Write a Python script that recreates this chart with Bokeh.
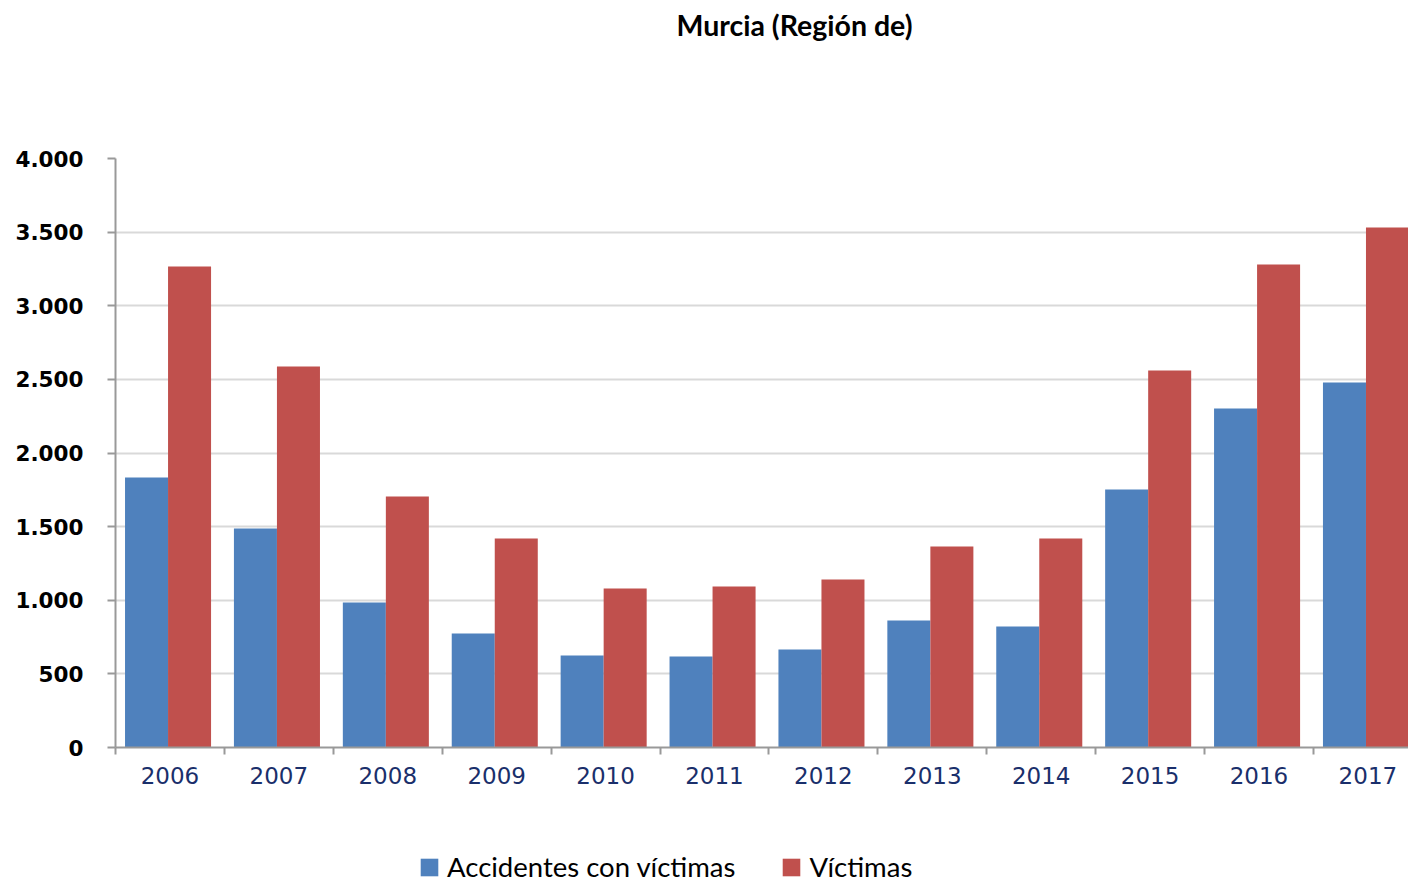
from bokeh.plotting import figure
from bokeh.models import ColumnDataSource, Range1d, FixedTicker, Legend, LegendItem, Title
from bokeh.layouts import column
from bokeh.embed import file_html
from bokeh.resources import INLINE

# ---- data ----
years = ["2006", "2007", "2008", "2009", "2010", "2011", "2012", "2013", "2014", "2015", "2016", "2017"]
accidentes = [1834, 1487, 985, 774, 625, 618, 666, 862, 822, 1752, 2302, 2479]
victimas = [3267, 2587, 1705, 1419, 1080, 1093, 1141, 1365, 1419, 2560, 3280, 3531]
y_ticks = [0, 500, 1000, 1500, 2000, 2500, 3000, 3500, 4000]
y_tick_labels = ["0", "500", "1.000", "1.500", "2.000", "2.500", "3.000", "3.500", "4.000"]
title_text = "Murcia (Región de)"
series_names = ["Accidentes con víctimas", "Víctimas"]

BLUE = "#4F81BD"
RED = "#C0504D"

idx = list(range(len(years)))
src = ColumnDataSource(dict(
    xb=[i - 0.215 for i in idx],
    xr=[i + 0.18 for i in idx],
    acc=accidentes,
    vic=victimas,
))

W = 1408
p = figure(width=W, height=847, output_backend="svg", toolbar_location=None,
           x_range=Range1d(-0.5, 11.373), y_range=Range1d(0, 4000),
           min_border_left=115, min_border_right=0, min_border_top=0,
           min_border_bottom=100)
p.outline_line_color = None
p.background_fill_color = "white"
p.border_fill_color = "white"

rb = p.vbar(x="xb", top="acc", width=0.395, source=src, fill_color=BLUE, line_color=None)
rr = p.vbar(x="xr", top="vic", width=0.395, source=src, fill_color=RED, line_color=None)

# title (outermost) and a blank spacer between it and the frame
p.title = Title(text=title_text, align="left", offset=561, text_font="Lato",
                text_font_size="28.5px", text_font_style="bold", text_color="black")
p.add_layout(Title(text="\u00a0", text_font="Lato", text_font_size="83px"), "above")

# grid
p.xgrid.grid_line_color = None
p.ygrid.grid_line_color = "#d9d9d9"
p.ygrid.grid_line_width = 2
p.ygrid.ticker = FixedTicker(ticks=y_ticks)

# y axis
yax = p.yaxis[0]
yax.ticker = FixedTicker(ticks=y_ticks)
yax.major_label_overrides = {v: s for v, s in zip(y_ticks, y_tick_labels)}
yax.major_label_text_font = "DejaVu Sans"
yax.major_label_text_font_style = "bold"
yax.major_label_text_font_size = "21.5px"
yax.major_label_text_color = "black"
yax.axis_line_color = "#999999"
yax.axis_line_width = 2
yax.major_tick_line_color = "#999999"
yax.major_tick_line_width = 2
yax.major_tick_out = 8
yax.major_tick_in = 0
yax.minor_tick_line_color = None
yax.major_label_standoff = 24

# x axis
xax = p.xaxis[0]
xax.ticker = FixedTicker(ticks=idx, minor_ticks=[i - 0.5 for i in range(len(years) + 1)])
xax.major_label_overrides = {i: y for i, y in zip(idx, years)}
xax.major_label_text_font = "DejaVu Sans"
xax.major_label_text_font_size = "23px"
xax.major_label_text_color = "#1a2f6b"
xax.axis_line_color = "#999999"
xax.axis_line_width = 2
xax.major_tick_line_color = None
xax.major_tick_out = 7
xax.major_tick_in = 0
xax.minor_tick_line_color = "#999999"
xax.minor_tick_line_width = 2
xax.minor_tick_out = 7
xax.minor_tick_in = 0
xax.major_label_standoff = 12

# legend strip below the chart (its frame is aligned with the chart's frame)
p2 = figure(width=W, height=36, output_backend="svg", toolbar_location=None,
            x_axis_type=None, y_axis_type=None, min_border_left=115,
            min_border_right=0, min_border_top=0, min_border_bottom=0,
            x_range=Range1d(-100, -99), y_range=Range1d(0, 1))
p2.title = None
p2.outline_line_color = None
p2.background_fill_color = "white"
p2.border_fill_color = "white"
# same data, outside this strip's visible range: only the legend swatches show
lb = p2.vbar(x="xb", top="acc", width=0.395, source=src, fill_color=BLUE, line_color=None)
lr = p2.vbar(x="xr", top="vic", width=0.395, source=src, fill_color=RED, line_color=None)

legend = Legend(items=[LegendItem(label=series_names[0], renderers=[lb]),
                       LegendItem(label=series_names[1], renderers=[lr])],
                orientation="horizontal", location=(303, 0),
                label_text_font="Lato", label_text_font_size="27.5px",
                label_text_color="black", glyph_width=22, glyph_height=22,
                label_standoff=7, spacing=45, padding=0, margin=0,
                border_line_color=None, background_fill_alpha=0)
p2.add_layout(legend, "center")

layout = column(p, p2, spacing=0)
open("out.html", "w").write(file_html(layout, INLINE))
